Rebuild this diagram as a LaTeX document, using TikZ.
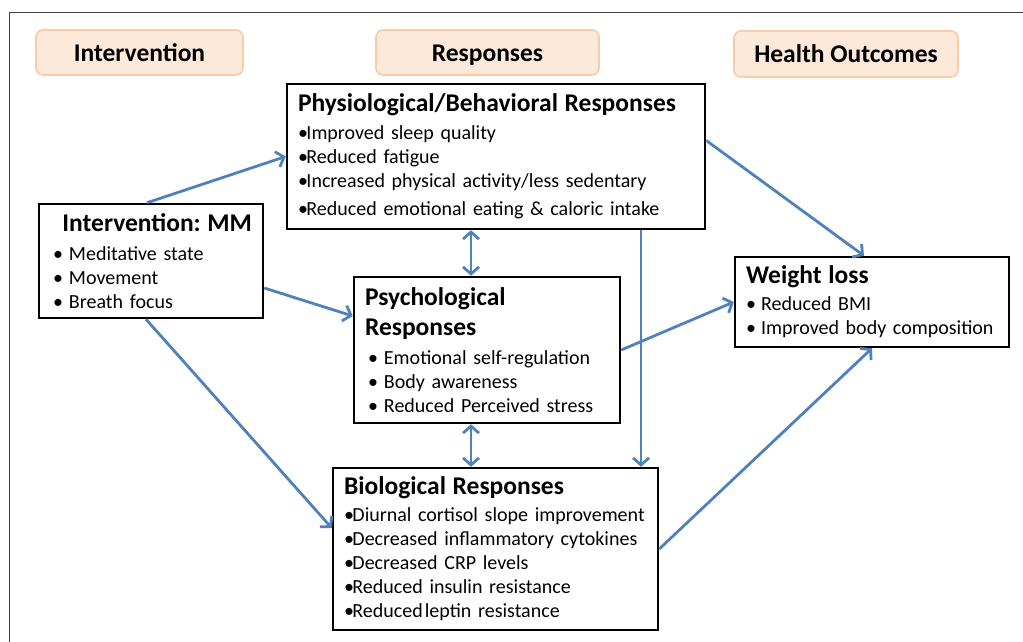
\documentclass[tikz,border=0pt]{standalone}
\usepackage{fontspec}
\setmainfont{Carlito}
\usepackage{xcolor}
\usepackage{tikz}
\usetikzlibrary{arrows.meta,positioning,calc}

\definecolor{flowblue}{HTML}{4F81BD}
\definecolor{peachfill}{HTML}{FDE9D9}
\definecolor{peachline}{HTML}{F9CBA7}
\definecolor{framegray}{HTML}{3F3F3F}

\frenchspacing
\newcommand{\titlefont}{\fontsize{25.5}{30}\selectfont\bfseries}
\newcommand{\dotitem}[1]{\mbox{\textbullet\kern-1.5pt\relax#1}}
\newcommand{\tabbul}[1]{\mbox{\hspace*{3pt}\makebox[16pt][l]{\textbullet}#1}}

\begin{document}
\begin{tikzpicture}[
    x=1pt, y=-1pt,
    every node/.style={font=\fontsize{20}{24}\selectfont},
    header/.style={rectangle, rounded corners=7pt, draw=peachline, line width=1.6pt,
                   fill=peachfill, font=\titlefont, inner sep=0pt,
                   text height=18pt, text depth=0pt},
    respbox/.style={rectangle, draw, line width=2.5pt, align=left, inner xsep=11pt,
                    inner ysep=0pt, fill=white},
    flowarrow/.style={draw=flowblue, line width=2.8pt,
                      -{Straight Barb[length=7pt,width=16pt]}},
    bothways/.style={flowarrow, {Straight Barb[length=7pt,width=16pt]}-{Straight Barb[length=7pt,width=16pt]}},
]
\useasboundingbox (0,0) rectangle (1023,642);

% outer frame (only top and left edges are visible)
\draw[framegray, line width=1.2pt] (9.5,700) -- (9.5,12.5) -- (1100,12.5);

% -------- HEADERS --------
\node[header, minimum width=207pt, minimum height=45pt] (intv) at (139.5,52.5) {Intervention};
\node[header, minimum width=223pt, minimum height=45pt] (resp) at (487.5,52.5) {Responses};
\node[header, minimum width=224pt, minimum height=46pt] (outc) at (846,54) {Health Outcomes};

% -------- BOXES --------
\node[respbox, text width=396pt, minimum height=145pt] (physio) at (496,156.5)
  {{\titlefont Physiological/Behavioral Responses}\\[4pt]
   \dotitem{Improved sleep quality}\\
   \dotitem{Reduced fatigue}\\
   \dotitem{Increased physical activity/less sedentary}\\[4pt]
   \dotitem{Reduced emotional eating \& caloric intake}};

\node[respbox, text width=202pt, minimum height=114pt] (mm) at (151,261)
  {\hspace*{\fill}{\titlefont Intervention: MM}\hspace*{\fill}\\[5pt]
   \tabbul{Meditative state}\\
   \tabbul{Movement}\\
   \tabbul{Breath focus}};

\node[respbox, text width=244pt, minimum height=146pt] (psych) at (487,350)
  {{\titlefont Psychological}\\[6pt]
   {\titlefont Responses}\\[5pt]
   \tabbul{Emotional self-regulation}\\
   \tabbul{Body awareness}\\
   \tabbul{Reduced Perceived stress}};

\node[respbox, text width=303pt, minimum height=162pt] (bio) at (495.5,549)
  {{\titlefont Biological Responses}\\[3pt]
   \dotitem{Diurnal cortisol slope improvement}\\
   \dotitem{Decreased inflammatory cytokines}\\
   \dotitem{Decreased CRP levels}\\
   \dotitem{Reduced insulin resistance}\\
   \dotitem{Reduced\kern2pt leptin resistance}};

\node[respbox, text width=252pt, minimum height=90pt] (weight) at (872,302)
  {{\titlefont Weight loss}\\[3pt]
   \dotitem{\ Reduced BMI}\\
   \dotitem{\ Improved body composition}};

% -------- CONNECTORS --------
\draw[flowarrow] ([xshift=-4pt]mm.north) -- (physio.west);
\draw[flowarrow] ([yshift=-27pt]mm.east) -- ([yshift=34pt]psych.west);
\draw[flowarrow] ([xshift=-5pt]mm.south) -- ([yshift=21pt]bio.west);

\draw[bothways] ([xshift=-25pt]physio.south) -- ([xshift=-16pt]psych.north);
\draw[bothways] ([xshift=-16pt]psych.south) -- ([xshift=-24.5pt]bio.north);
\draw[flowarrow] ([xshift=145pt]physio.south) -- ([xshift=145.5pt]bio.north);

\draw[flowarrow] ([yshift=16pt]physio.east) -- ([xshift=-8pt]weight.north);
\draw[flowarrow] (psych.east) -- (weight.west);
\draw[flowarrow] (bio.east) -- (weight.south);

\end{tikzpicture}
\end{document}
